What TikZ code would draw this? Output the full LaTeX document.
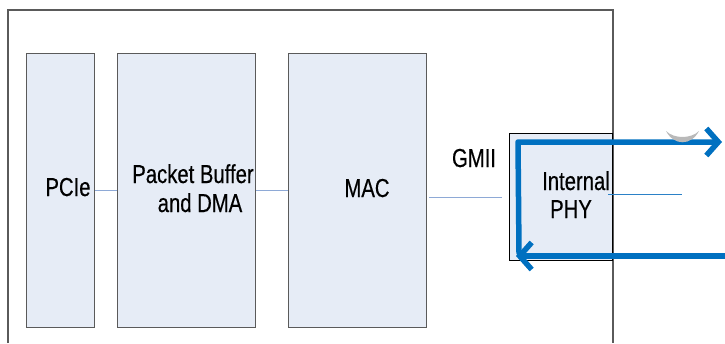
\documentclass[tikz,border=0pt]{standalone}
\usepackage{fontspec}
\setmainfont{Liberation Sans}[FakeStretch=0.78, FakeBold=0.4]
\usetikzlibrary{arrows.meta}
\definecolor{boxfill}{HTML}{E6ECF6}
\definecolor{boxedge}{HTML}{5A5A5A}
\definecolor{linkblue}{HTML}{8EA9D6}
\definecolor{loopblue}{HTML}{0070C0}
\tikzset{
  blk/.style={draw=boxedge, line width=1.3pt, fill=boxfill, anchor=north west, inner sep=0pt},
  lbl/.style={anchor=base, inner sep=0pt, font=\fontsize{26}{30}\selectfont},
  conn/.style={draw=linkblue, line width=1pt},
  loopline/.style={draw=loopblue, line width=5.5pt, line cap=round, line join=round,
    -{Straight Barb[length=12pt, width=27pt, line width=5.5pt]}},
}
\begin{document}
\begin{tikzpicture}[x=1pt, y=-1pt]
  \useasboundingbox (0,0) rectangle (725,343);
  % enclosing device outline, open at the bottom
  \draw[boxedge, line width=1.4pt] (8,343) -- (8,10) -- (613,10) -- (613,343);

  % functional blocks
  \node[blk, minimum width=68pt, minimum height=274pt] (pcie) at (26,53) {};
  \node[blk, minimum width=138pt, minimum height=274pt] (pb) at (117,53) {};
  \node[blk, minimum width=138pt, minimum height=274pt] (mac) at (288,53) {};
  \node[draw=black, line width=1pt, fill=boxfill, anchor=north west, inner sep=0pt,
        minimum width=103pt, minimum height=127pt] (phy) at (509,133) {};

  % labels
  \node[lbl] (tpcie) at (68,196) {PCIe};
  \node[lbl] (tpb1) at (193,183) {Packet Buffer};
  \node[lbl] (tpb2) at (200,212) {and DMA};
  \node[lbl] (tmac) at (367,197) {MAC};
  \node[lbl] (tgmii) at (474,167) {GMII};
  \node[lbl] (tphy1) at (576,190) {Internal};
  \node[lbl] (tphy2) at (571,218) {PHY};

  % links between blocks
  \draw[conn] (pcie.east |- 0,190) -- (pb.west |- 0,190);
  \draw[conn] (pb.east |- 0,190) -- (mac.west |- 0,190);
  \coordinate (g1) at (429,197);
  \coordinate (g2) at (502,197);
  \draw[conn] (g1) -- (g2);
  \coordinate (m1) at (608,194);
  \coordinate (m2) at (682,194);
  \draw[draw=loopblue!70!linkblue, line width=1pt] (m1) -- (m2);

  % loopback path through the PHY
  \coordinate (inR) at (728,256);
  \coordinate (inL) at (516,256);
  \coordinate (corner) at (518,142);
  \coordinate (outR) at (722,142);
  \draw[loopline] (inR) -- (inL);
  \draw[loopline] (519,253) -- (corner) -- (outR);

  % small grey mark above the outgoing arrow
  \fill[gray!55] (666,131) .. controls (674,146) and (691,146) .. (699,131)
                 .. controls (691,139) and (674,139) .. (666,131);
\end{tikzpicture}
\end{document}
